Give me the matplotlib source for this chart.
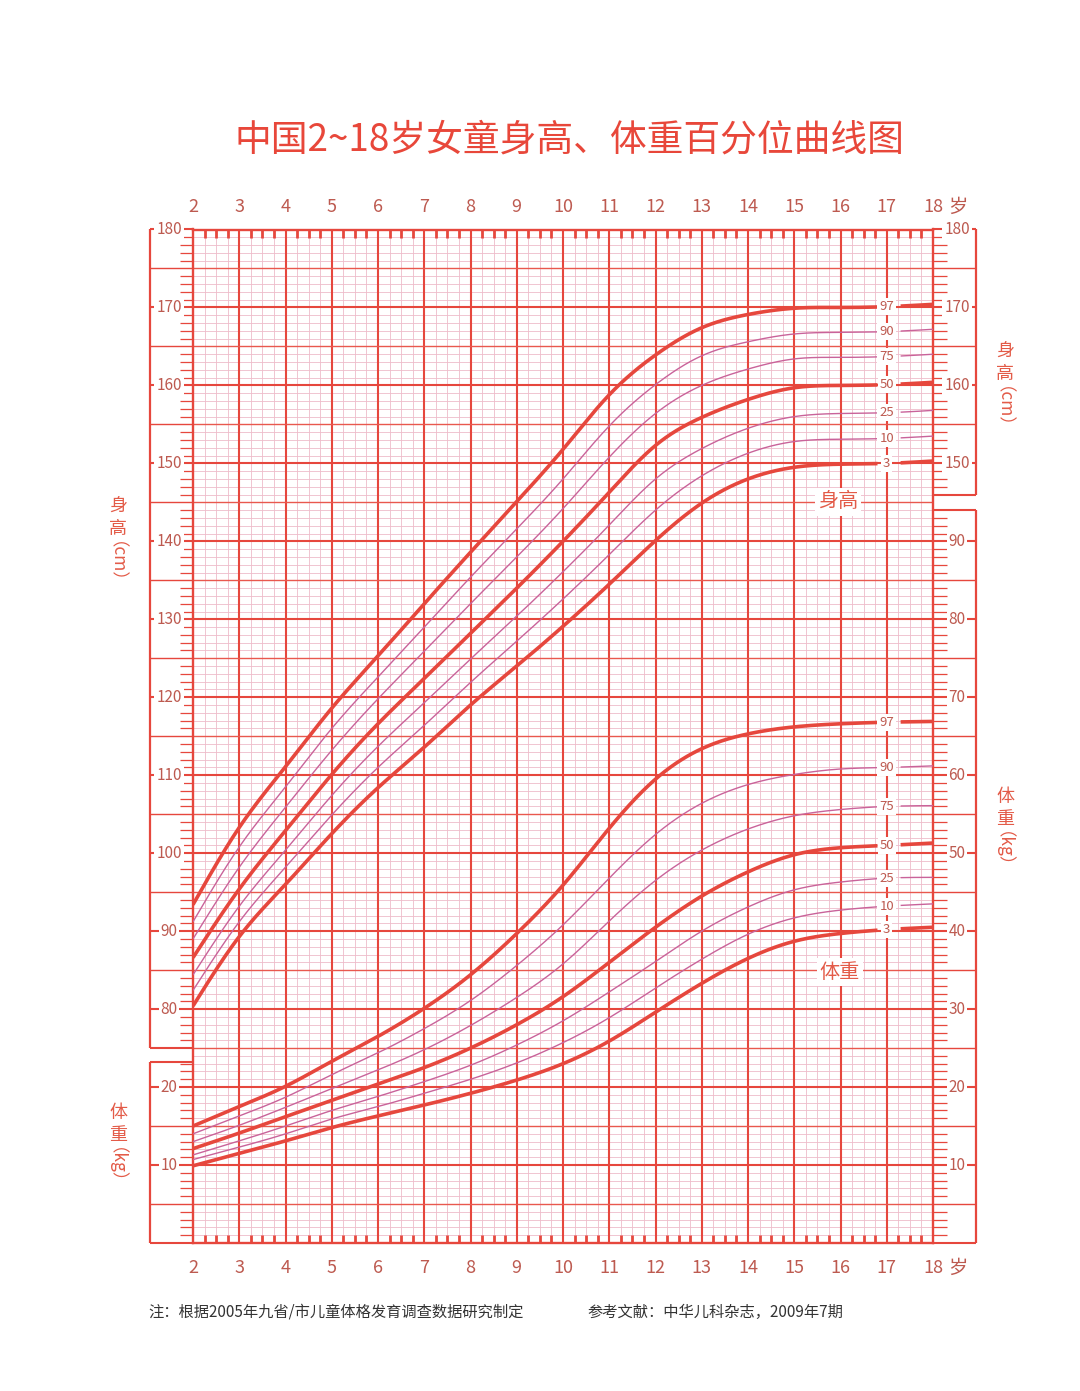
import numpy as np
import matplotlib
matplotlib.use('Agg')
import matplotlib.pyplot as plt
from matplotlib.transforms import blended_transform_factory

plt.rcParams['font.family'] = ['Noto Sans CJK SC', 'DejaVu Sans']

# ---------------- data ----------------
ages = [2, 3, 4, 5, 6, 7, 8, 9, 10, 11, 12, 13, 14, 15, 16, 17, 18]
percentile_labels = ['3', '10', '25', '50', '75', '90', '97']

height_p3 = [80.4, 89.3, 96.0, 102.5, 108.4, 113.6, 119.0, 124.0, 129.1, 134.5, 140.1, 144.9, 148.0, 149.5, 149.9, 150.0, 150.3]
height_p10 = [82.4, 91.2, 98.2, 104.9, 111.0, 116.4, 121.9, 127.2, 132.6, 138.3, 144.0, 148.4, 151.3, 152.8, 153.1, 153.2, 153.5]
height_p25 = [84.4, 93.2, 100.4, 107.4, 113.7, 119.3, 124.9, 130.4, 136.1, 142.1, 148.0, 151.9, 154.5, 156.0, 156.4, 156.5, 156.8]
height_p50 = [86.6, 95.4, 102.9, 110.1, 116.6, 122.4, 128.2, 134.0, 140.0, 146.3, 152.3, 155.9, 158.2, 159.7, 160.0, 160.1, 160.4]
height_p75 = [89.0, 98.2, 105.9, 113.2, 119.8, 125.9, 132.0, 138.0, 144.2, 150.8, 156.4, 160.0, 162.1, 163.4, 163.6, 163.7, 164.0]
height_p90 = [91.2, 100.8, 108.5, 116.0, 122.6, 129.0, 135.4, 141.6, 148.0, 154.8, 160.1, 163.8, 165.6, 166.6, 166.8, 166.9, 167.2]
height_p97 = [93.4, 103.3, 111.1, 118.6, 125.3, 132.0, 138.6, 145.1, 151.8, 158.8, 163.9, 167.4, 169.1, 169.9, 170.0, 170.1, 170.4]

weight_p3 = [9.9, 11.5, 13.1, 14.8, 16.3, 17.7, 19.2, 20.9, 23.0, 25.9, 29.6, 33.3, 36.5, 38.7, 39.7, 40.2, 40.5]
weight_p10 = [10.7, 12.3, 14.0, 15.9, 17.5, 19.2, 21.0, 23.1, 25.7, 28.9, 32.7, 36.4, 39.6, 41.7, 42.7, 43.2, 43.5]
weight_p25 = [11.3, 13.1, 15.0, 17.0, 18.8, 20.7, 22.8, 25.4, 28.5, 32.2, 36.1, 40.0, 43.1, 45.3, 46.3, 46.8, 46.9]
weight_p50 = [12.1, 14.1, 16.2, 18.3, 20.4, 22.5, 25.0, 28.0, 31.6, 36.0, 40.5, 44.5, 47.6, 49.8, 50.7, 51.0, 51.3]
weight_p75 = [13.0, 15.1, 17.4, 19.8, 22.2, 24.8, 27.9, 31.5, 35.8, 41.3, 46.5, 50.4, 53.1, 54.8, 55.6, 56.0, 56.1]
weight_p90 = [14.0, 16.3, 18.7, 21.6, 24.4, 27.5, 31.1, 35.6, 40.8, 46.8, 52.4, 56.4, 58.8, 60.1, 60.8, 61.0, 61.2]
weight_p97 = [15.0, 17.5, 20.1, 23.3, 26.5, 30.1, 34.4, 39.7, 45.9, 53.2, 59.5, 63.4, 65.3, 66.2, 66.6, 66.8, 66.9]

age_ticks = list(range(2, 19))
left_height_ticks = [80, 90, 100, 110, 120, 130, 140, 150, 160, 170, 180]
left_weight_ticks = [10, 20]
right_height_ticks = [150, 160, 170, 180]
right_weight_ticks = [10, 20, 30, 40, 50, 60, 70, 80, 90]

HEIGHT_SHIFT = 50  # height (cm) shares the weight scale: y = height - 50

height_series = [height_p3, height_p10, height_p25, height_p50, height_p75, height_p90, height_p97]
weight_series = [weight_p3, weight_p10, weight_p25, weight_p50, weight_p75, weight_p90, weight_p97]

# ---------------- style ----------------
RED = '#e6473d'
RED_MID = '#e9584e'
FINE = '#eebcca'
THIN_CURVE = '#c9639a'
NUM = '#bd5a50'
SIDE = '#e35b48'

W, H = 1080, 1391
L_PX, R_PX, T_PX, B_PX = 193, 933, 229.5, 1243


def fx(x):
    return x / W


def fy(y):
    return 1 - y / H


def natural_spline(x, y, xn):
    x = np.asarray(x, float)
    y = np.asarray(y, float)
    n = len(x)
    h = np.diff(x)
    A = np.zeros((n, n))
    rhs = np.zeros(n)
    A[0, 0] = 1
    A[-1, -1] = 1
    for i in range(1, n - 1):
        A[i, i - 1] = h[i - 1]
        A[i, i] = 2 * (h[i - 1] + h[i])
        A[i, i + 1] = h[i]
        rhs[i] = 6 * ((y[i + 1] - y[i]) / h[i] - (y[i] - y[i - 1]) / h[i - 1])
    M = np.linalg.solve(A, rhs)
    idx = np.clip(np.searchsorted(x, xn) - 1, 0, n - 2)
    x0, x1 = x[idx], x[idx + 1]
    hh = h[idx]
    a = (x1 - xn) / hh
    b = (xn - x0) / hh
    return (a * y[idx] + b * y[idx + 1]
            + ((a**3 - a) * M[idx] + (b**3 - b) * M[idx + 1]) * hh**2 / 6)


fig = plt.figure(figsize=(W / 100, H / 100), dpi=100)
fig.patch.set_facecolor('white')
ax = fig.add_axes([fx(L_PX), fy(B_PX), (R_PX - L_PX) / W, (B_PX - T_PX) / H])
ax.set_xlim(2, 18)
ax.set_ylim(0, 130)

# ---------------- grid ----------------
quarters = [a for a in np.arange(2, 18.001, 0.25) if abs(a - round(a)) > 1e-6]
years = list(range(3, 18))
ax.vlines(quarters, 0, 130, colors=FINE, lw=0.6, zorder=1)
ax.vlines(years, 0, 130, colors=RED, lw=1.5, zorder=2)
units = [v for v in range(1, 130) if v % 5 != 0]
fives = [v for v in range(5, 130, 5) if v % 10 != 0]
tens = list(range(10, 130, 10))
ax.hlines(units, 2, 18, colors=FINE, lw=0.6, zorder=1)
ax.hlines(fives, 2, 18, colors=RED_MID, lw=1.0, zorder=2)
ax.hlines(tens, 2, 18, colors=RED, lw=1.5, zorder=2)

for s in ax.spines.values():
    s.set_color(RED)
    s.set_linewidth(1.7)

ax.set_xticks(age_ticks)
ax.set_xticklabels([])
ax.set_xticks(quarters, minor=True)
ax.tick_params(which='major', length=0)
ax.tick_params(which='minor', direction='in', length=6, width=2.0, color=RED,
               top=True, bottom=True)
ax.set_yticks([])

# ---------------- curves ----------------
xs = np.linspace(2, 18, 801)
gap = (xs > 16.8) & (xs < 17.3)
thick = {'3', '50', '97'}
for lab, hs, ws in zip(percentile_labels, height_series, weight_series):
    is_thick = lab in thick
    for ser, shift in ((hs, HEIGHT_SHIFT), (ws, 0)):
        yv = natural_spline(ages, np.asarray(ser) - shift, xs)
        yv[gap] = np.nan
        ax.plot(xs, yv, color=RED if is_thick else THIN_CURVE,
                lw=2.6 if is_thick else 1.0, zorder=4 if is_thick else 3,
                solid_capstyle='butt')
        y17 = ser[ages.index(17)] - shift
        ax.text(17, y17, lab, ha='center', va='center', fontsize=9.5, color=NUM,
                zorder=6, bbox=dict(boxstyle='square,pad=0.15', fc='white', ec='none'))

# ---------------- side scales ----------------
tr = blended_transform_factory(ax.transAxes, ax.transData)
lb = (150 - L_PX) / (R_PX - L_PX)
l_lab = (169 - L_PX) / (R_PX - L_PX)
l_minor = (180 - L_PX) / (R_PX - L_PX)
rb = (976 - L_PX) / (R_PX - L_PX)
r_lab = (957 - L_PX) / (R_PX - L_PX)
r_minor = (947 - L_PX) / (R_PX - L_PX)

kw = dict(transform=tr, clip_on=False, color=RED, solid_capstyle='butt')

# left brackets: height 75..180 cm (25..130), weight 0..23
l_sections = [(25, 130), (0, 23.2)]
for lo, hi in l_sections:
    ax.plot([lb, lb], [lo, hi], lw=1.6, **kw)
    for v in (lo, hi):
        ax.plot([lb, 0], [v, v], lw=1.5, **kw)
    for v in range(int(np.ceil(lo)), int(np.floor(hi)) + 1):
        if v in (lo, hi):
            continue
        if v % 5 == 0:
            ax.plot([lb, 0], [v, v], lw=1.5 if v % 10 == 0 else 1.0, **kw)
        else:
            ax.plot([l_minor, 0], [v, v], lw=0.9, **kw)

# right brackets: height 146..180 cm (96..130), weight 0..94
r_sections = [(96, 130), (0, 94)]
for lo, hi in r_sections:
    ax.plot([rb, rb], [lo, hi], lw=1.6, **kw)
    for v in (lo, hi):
        ax.plot([1, rb], [v, v], lw=1.5, **kw)
    for v in range(lo + 1, hi):
        if v % 5 == 0:
            ax.plot([1, rb], [v, v], lw=1.5 if v % 10 == 0 else 1.0, **kw)
        else:
            ax.plot([1, r_minor], [v, v], lw=0.9, **kw)

lbl = dict(transform=tr, ha='center', va='center', fontsize=11, color=NUM,
           clip_on=False, zorder=7,
           bbox=dict(boxstyle='square,pad=0.12', fc='white', ec='none'))
for h in left_height_ticks:
    ax.text(l_lab, h - HEIGHT_SHIFT, str(h), **lbl)
for w in left_weight_ticks:
    ax.text(l_lab, w, str(w), **lbl)
for h in right_height_ticks:
    ax.text(r_lab, h - HEIGHT_SHIFT, str(h), **lbl)
for w in right_weight_ticks:
    ax.text(r_lab, w, str(w), **lbl)

# age labels top / bottom
trx = blended_transform_factory(ax.transData, ax.transAxes)
top_y = (B_PX - 207) / (B_PX - T_PX)
bot_y = (B_PX - 1268) / (B_PX - T_PX)
for a in age_ticks:
    for yy in (top_y, bot_y):
        ax.text(a, yy, str(a), transform=trx, ha='center', va='center',
                fontsize=13, color=NUM, clip_on=False)
sui_x = (958 - L_PX) / (R_PX - L_PX)
for yy in (top_y, bot_y):
    ax.text(sui_x, yy, '岁', transform=ax.transAxes, ha='center', va='center',
            fontsize=14, color=NUM, clip_on=False)

# ---------------- texts ----------------
fig.text(fx(569), fy(140), '中国2~18岁女童身高、体重百分位曲线图', ha='center',
         va='center', fontsize=26.5, color='#e8473a')


def vlabel(x, y, chars, unit):
    for i, c in enumerate(chars):
        fig.text(fx(x), fy(y + i * 22), c, ha='center', va='center',
                 fontsize=13, color=SIDE)
    fig.text(fx(x - 11), fy(y + len(chars) * 22 - 10), '（' + unit + '）', rotation=270,
             rotation_mode='anchor', ha='left', va='center',
             fontsize=12.5, color=SIDE)


vlabel(118, 507, '身高', 'cm')
vlabel(118, 1113, '体重', 'kg')
vlabel(1005, 352, '身高', 'cm')
vlabel(1005, 797, '体重', 'kg')

inner = dict(ha='center', va='center', fontsize=14.5, color=SIDE, zorder=8,
             bbox=dict(boxstyle='square,pad=0.15', fc='white', ec='none'))
fig.text(fx(838), fy(502), '身高', **inner)
fig.text(fx(840), fy(972), '体重', **inner)

fig.text(fx(148), fy(1312), '注：根据2005年九省/市儿童体格发育调查数据研究制定',
         ha='left', va='center', fontsize=11, color='#333333')
fig.text(fx(587), fy(1312), '参考文献：中华儿科杂志，2009年7期',
         ha='left', va='center', fontsize=11, color='#333333')

fig.savefig('out.png', dpi=100, facecolor='white')
